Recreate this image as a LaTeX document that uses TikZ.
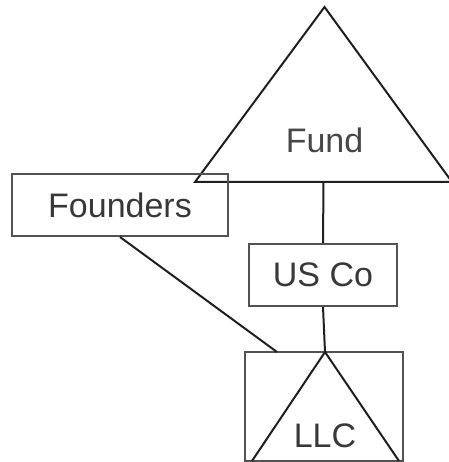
\documentclass[tikz,border=0pt]{standalone}
\usepackage{fontspec}
\setmainfont{Liberation Sans}
\begin{document}
\begin{tikzpicture}[x=1pt,y=-1pt,
  boxline/.style={draw=black!68, line width=2pt},
  triline/.style={draw=black!88, line width=2pt, line join=miter},
  link/.style={draw=black!88, line width=2pt},
  lbl/.style={text=black!78, font=\fontsize{34}{40}\selectfont, inner sep=0pt},
  entity/.style={boxline, rectangle, lbl, inner sep=0pt}]
\useasboundingbox (0,0) rectangle (448,462);

% Fund: large triangle at the top
\coordinate (fundapex) at (324.5,7);
\coordinate (fundleft) at (195,182);
\coordinate (fundright) at (452,182);
\coordinate (fundbase) at (323.5,182);
\draw[triline] (fundleft) -- (fundapex) -- (fundright) -- cycle;
\node[lbl, text=black!72] (fund) at (324.5,140) {Fund};

% Founders box (overlaps the triangle's corner)
\node[entity, minimum width=216pt, minimum height=62pt] (founders) at (120,205) {Founders};

% US Co box
\node[entity, minimum width=148pt, minimum height=62pt] (usco) at (323,275) {US Co};

% LLC: rectangle with a triangle inside
\node[boxline, rectangle, minimum width=158pt, minimum height=109pt, inner sep=0pt] (llcbox) at (324,406.5) {};
\coordinate (llcapex) at (325,352);
\coordinate (llcleft) at (252,461);
\coordinate (llcright) at (399,461);
\draw[triline] (llcleft) -- (llcapex) -- (llcright);
\node[lbl] (llc) at (325,436) {LLC};
\coordinate (founderend) at (277,352);

% Ownership links
\draw[link] (fundbase) -- (usco.north);
\draw[link] (usco.south) -- (llcapex);
\draw[link] (founders.south) -- (founderend);
\end{tikzpicture}
\end{document}
